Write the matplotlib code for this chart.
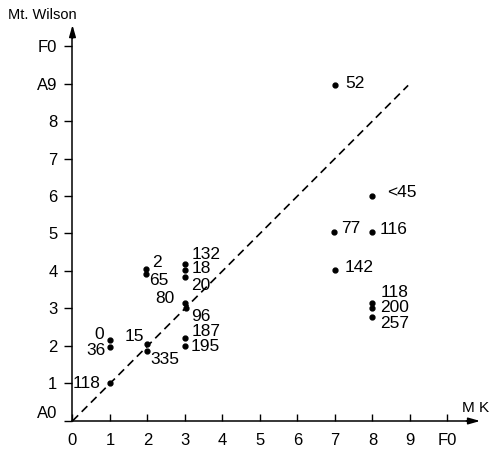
import matplotlib
matplotlib.use("Agg")
import matplotlib.pyplot as plt

plt.rcParams["font.family"] = ["Liberation Sans", "DejaVu Sans"]

# MK spectral subclass (x) vs Mt. Wilson subclass (y), with star labels
mk = [1, 1, 1, 2, 2, 1.96, 1.96, 3, 3, 3, 3, 3.03, 3, 3, 7, 8, 6.97, 8, 7, 8, 8, 8]
mw = [1, 2.17, 1.97, 2.05, 1.87, 4.05, 3.93, 4.19, 4.03, 3.83, 3.15, 3.0,
      2.2, 2.0, 8.96, 6.01, 5.03, 5.03, 4.03, 3.14, 3.02, 2.78]
names = ["118", "0", "36", "15", "335", "2", "65", "132", "18", "20", "80", "96",
         "187", "195", "52", "<45", "77", "116", "142", "118", "200", "257"]

x_ticklabels = ["0", "1", "2", "3", "4", "5", "6", "7", "8", "9", "F0"]
y_ticklabels = ["A0", "1", "2", "3", "4", "5", "6", "7", "8", "A9", "F0"]

# label placement: (dx, dy) in pixels, horizontal alignment
place = [(-9, 0, "right"), (-11, 5, "center"), (-4, -3, "right"), (-3, 8, "right"),
         (3, -9, "left"), (6, 7, "left"), (3, -7, "left"), (7, 9, "left"),
         (7, 1.5, "left"), (6, -8, "left"), (-10, 4, "right"), (5, -8, "left"),
         (7, 7, "left"), (6, -1, "left"), (10, 2, "left"), (15, 3, "left"),
         (7, 3.5, "left"), (7, 3, "left"), (10, 2, "left"), (8, 11, "left"),
         (8, 0, "left"), (8, -7, "left")]

fig = plt.figure(figsize=(4.91, 4.49), dpi=100)
ax = fig.add_axes([0, 0, 1, 1])
ax.set_xlim(-1.933, 11.16)
ax.set_ylim(-0.747, 11.227)

for s in ["top", "right"]:
    ax.spines[s].set_visible(False)
ax.spines["left"].set_position(("data", 0))
ax.spines["bottom"].set_position(("data", 0))
ax.spines["left"].set_bounds(0, 10.3)
ax.spines["bottom"].set_bounds(0, 10.6)
ax.spines["left"].set_linewidth(1.1)
ax.spines["bottom"].set_linewidth(1.1)

ax.set_xticks(range(11))
ax.set_xticklabels(x_ticklabels)
ax.set_yticks(range(11))
ax.set_yticklabels(y_ticklabels)
ax.tick_params(axis="x", direction="in", length=5, width=1, pad=8.5, labelsize=12)
ax.tick_params(axis="y", direction="out", length=5.8, width=1, pad=5, labelsize=12)
ax.get_yticklabels()[0].set_va("bottom")

# arrow heads
ax.annotate("", xy=(0, 10.56), xytext=(0, 10.2),
            arrowprops=dict(arrowstyle="-|>,head_length=0.7,head_width=0.2",
                            color="k", lw=1.1, shrinkA=0, shrinkB=0),
            annotation_clip=False)
ax.annotate("", xy=(10.87, 0), xytext=(10.5, 0),
            arrowprops=dict(arrowstyle="-|>,head_length=0.7,head_width=0.2",
                            color="k", lw=1.1, shrinkA=0, shrinkB=0),
            annotation_clip=False)

# one-to-one line
ax.plot([0, 8.95], [0, 8.95], color="k", lw=1.2, dashes=(4.8, 3))

ax.plot(mk, mw, "o", color="k", markersize=3.5, linestyle="none")
for x, y, name, (dx, dy, ha) in zip(mk, mw, names, place):
    ax.annotate(name, (x, y), xytext=(dx * 0.72, dy * 0.72), textcoords="offset points",
                ha=ha, va="center", fontsize=12.5)

ax.text(-0.81, 10.83, "Mt. Wilson", ha="center", va="center", fontsize=10.5)
ax.text(10.39, 0.35, "M K", ha="left", va="center", fontsize=11)

fig.savefig("out.png", dpi=100)
